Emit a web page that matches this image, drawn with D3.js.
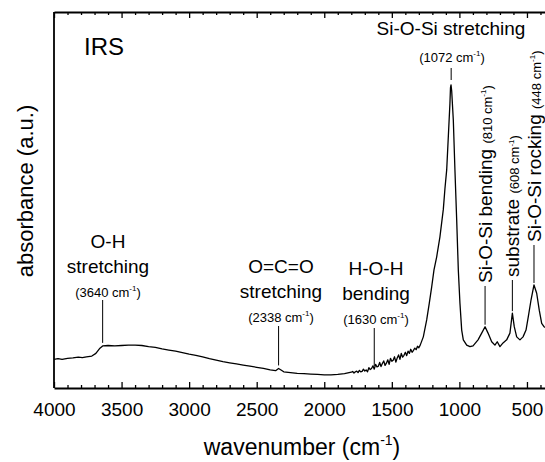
<!DOCTYPE html>
<html><head><meta charset="utf-8">
<script src="https://cdn.jsdelivr.net/npm/d3@7"></script>
<style>
body{margin:0;background:#fff}
svg{display:block}
text{font-family:"Liberation Sans",Arial,Helvetica,sans-serif;fill:#000}
</style>
</head><body>
<svg id="c" width="545" height="462"></svg>
<script>
// ---- data ----
const wavenumbers = [
  4000,3970,3940,3900,3860,3820,3790,3760,3720,3690,3660,3640,3600,3550,3500,3450,3400,3350,3300,3250,
  3200,3150,3100,3050,3000,2950,2900,2850,2800,2750,2700,2650,2600,2550,2500,2450,2400,2360,2338,2320,
  2300,2250,2200,2150,2100,2050,2000,1950,1900,1850,
  1800,1790,1780,1770,1760,1750,1740,1730,1720,1710,1700,1690,1680,1670,1660,1650,1640,1630,1620,1610,
  1600,1590,1580,1570,1560,1550,1540,1530,1520,1510,1500,1490,1480,1470,1460,1450,1440,1430,1420,1410,
  1400,1390,1380,1370,1360,1350,1340,1330,1320,1310,1300,1290,
  1267,1242,1223,1205,1188,1168,1144,1119,1107,1094,1082,1070,1066,1062,1057,1045,1033,1020,1008,996,
  983,971,946,922,899,862,835,810,788,761,737,720,700,677,650,626,608,594,576,552,
  529,507,490,470,448,428,409,391,374,360
];
const absorbance = [
  7.6,7.8,7.6,7.9,8.0,8.2,8.1,8.3,8.5,9.2,10.6,11.2,11.3,11.2,11.3,11.4,11.4,11.3,11.0,10.8,
  10.4,10.1,9.8,9.4,9.0,8.7,8.3,7.8,7.4,7.0,6.7,6.4,6.1,5.8,5.5,5.2,4.8,4.6,5.2,4.8,
  4.3,4.1,3.9,3.8,3.7,3.6,3.5,3.5,3.6,3.8,
  4.2,4.4,4.0,4.3,4.5,4.1,4.7,4.3,4.4,5.0,4.5,4.8,4.3,5.4,4.9,5.2,5.9,5.0,6.3,5.6,
  5.8,6.8,5.7,6.5,7.2,6.0,6.6,7.5,6.3,7.9,7.1,7.4,8.3,6.9,8.0,8.8,7.6,9.2,8.2,8.7,
  9.5,8.6,9.8,9.2,10.3,9.5,10.0,10.6,10.2,11.1,10.7,11.4,
  13.6,18.1,22.5,26.9,31.4,34.9,40.2,47.5,53.0,58.0,66.8,75.7,79.8,80.6,79.0,71.3,58.0,44.7,31.4,22.6,
  15.4,12.8,11.4,11.0,11.2,12.8,14.6,16.3,14.6,12.3,11.4,12.3,11.0,12.0,12.8,14.6,19.9,16.3,13.6,12.8,
  13.6,15.4,19.0,23.4,27.4,25.2,20.7,17.2,16.3,16.0
];
const majorTicks = [4000,3500,3000,2500,2000,1500,1000,500];
const minorTicks = [3900,3800,3700,3600,3400,3300,3200,3100,2900,2800,2700,2600,2400,2300,2200,2100,
                    1900,1800,1700,1600,1400,1300,1200,1100,900,800,700,600,400];
const horizLabels = [
  {lines:["O-H","stretching"], wn:3640},
  {lines:["O=C=O","stretching"], wn:2338},
  {lines:["H-O-H","bending"], wn:1630}
];
const vertLabels = [
  {name:"Si-O-Si bending ", wn:810},
  {name:"substrate ", wn:608},
  {name:"Si-O-Si rocking ", wn:448}
];
const topLabel = {name:"Si-O-Si stretching", wn:1072};

// ---- drawing ----
const svg = d3.select("#c");
svg.append("rect").attr("width",545).attr("height",462).attr("fill","#fff");
const x = d3.scaleLinear().domain([4000, 366.5]).range([54, 545]);
const y = d3.scaleLinear().domain([0, 100]).range([388, 12]);
const data = wavenumbers.map((w,i)=>[w, absorbance[i]]);
const valueAt = w => {
  let best = data[0];
  data.forEach(d=>{ if (Math.abs(d[0]-w) < Math.abs(best[0]-w)) best = d; });
  return best[1];
};

// axes
const gB = svg.append("g").attr("transform","translate(0,388)")
  .call(d3.axisBottom(x).tickValues(majorTicks).tickSizeInner(-6).tickSizeOuter(0).tickPadding(15).tickFormat(d3.format("d")));
gB.selectAll("text").attr("font-size",19).attr("font-family",'"Liberation Sans",Arial,sans-serif');
const gBm = svg.append("g").attr("transform","translate(0,388)")
  .call(d3.axisBottom(x).tickValues(minorTicks).tickSizeInner(-3).tickSizeOuter(0).tickFormat(""));
gBm.select(".domain").remove();
const gT = svg.append("g").attr("transform","translate(0,12)")
  .call(d3.axisTop(x).tickValues(majorTicks).tickSizeInner(-6).tickSizeOuter(0).tickFormat(""));
const gTm = svg.append("g").attr("transform","translate(0,12)")
  .call(d3.axisTop(x).tickValues(minorTicks).tickSizeInner(-3).tickSizeOuter(0).tickFormat(""));
gTm.select(".domain").remove();
svg.selectAll(".domain").attr("stroke","#000").attr("stroke-width",1.8);
svg.selectAll(".tick line").attr("stroke","#000").attr("stroke-width",1.3);
svg.append("line").attr("x1",54).attr("x2",54).attr("y1",y(100)).attr("y2",y(0))
  .attr("stroke","#000").attr("stroke-width",1.8);

// spectrum
svg.append("path").datum(data)
  .attr("fill","none").attr("stroke","#000").attr("stroke-width",1.3).attr("stroke-linejoin","round")
  .attr("d", d3.line().x(d=>x(d[0])).y(d=>y(d[1])));

// helpers
function addWn(t, value, size){
  t.append("tspan").attr("font-size",size).text(`(${value} cm`);
  t.append("tspan").attr("font-size",size*0.62).attr("dy",-size*0.45).text("-1");
  t.append("tspan").attr("font-size",size).attr("dy",size*0.45).text(")");
}

// axis titles
const xt = svg.append("text").attr("x",302).attr("y",455).attr("text-anchor","middle").attr("font-size",23);
xt.append("tspan").text("wavenumber (cm");
xt.append("tspan").attr("font-size",14).attr("dy",-10).text("-1");
xt.append("tspan").attr("dy",10).text(")");
svg.append("text").attr("transform","translate(33,191) rotate(-90)").attr("text-anchor","middle")
  .attr("font-size",22).text("absorbance (a.u.)");

// IRS
svg.append("text").attr("x",84).attr("y",55).attr("font-size",24).text("IRS");

// horizontal annotation blocks
const hLayout = [
  {cx:108, base:248, lineTop:300},
  {cx:281, base:273, lineTop:326},
  {cx:376, base:275, lineTop:328}
];
horizLabels.forEach((L,i)=>{
  const lay = hLayout[i];
  L.lines.forEach((s,j)=>{
    svg.append("text").attr("x",lay.cx).attr("y",lay.base + j*24.5).attr("text-anchor","middle")
      .attr("font-size",19).text(s);
  });
  const t = svg.append("text").attr("x",lay.cx).attr("y",lay.base + 48.5).attr("text-anchor","middle");
  addWn(t, L.wn, 13);
  svg.append("line").attr("x1",x(L.wn)).attr("x2",x(L.wn))
    .attr("y1",lay.lineTop).attr("y2",y(valueAt(L.wn))-3)
    .attr("stroke","#000").attr("stroke-width",1);
});

// top label (1072)
svg.append("text").attr("x",451).attr("y",35).attr("text-anchor","middle").attr("font-size",19).text(topLabel.name);
const tt = svg.append("text").attr("x",452).attr("y",62).attr("text-anchor","middle");
addWn(tt, topLabel.wn, 13);
svg.append("line").attr("x1",x(topLabel.wn)+1.5).attr("x2",x(topLabel.wn)+1.5).attr("y1",68).attr("y2",80)
  .attr("stroke","#000").attr("stroke-width",1);

// vertical annotation labels
const vBottoms = [283, 277, 242];
vertLabels.forEach((L,i)=>{
  const lx = x(L.wn);
  const t = svg.append("text").attr("transform",`translate(${lx+7},${vBottoms[i]}) rotate(-90)`);
  t.append("tspan").attr("font-size",19).text(L.name);
  addWn(t, L.wn, 13);
  svg.append("line").attr("x1",lx).attr("x2",lx)
    .attr("y1",vBottoms[i]+3).attr("y2",y(valueAt(L.wn))-2)
    .attr("stroke","#000").attr("stroke-width",1);
});
</script>
</body></html>
